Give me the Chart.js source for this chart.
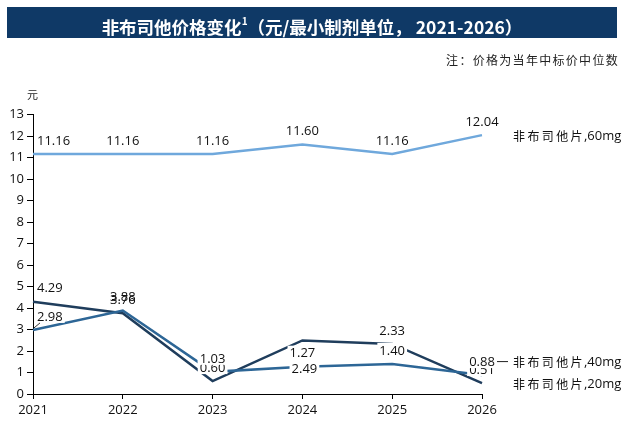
<!DOCTYPE html>
<html>
<head>
<meta charset="utf-8">
<script src="https://cdn.jsdelivr.net/npm/chart.js@4.4.1/dist/chart.umd.min.js"></script>
<style>
  html, body { margin: 0; padding: 0; background: #fff; }
  #wrap { position: relative; width: 625px; height: 422px; overflow: hidden; }
  #c { position: absolute; left: 0; top: 0; }
  #title { position: absolute; left: 7px; top: 7px; width: 610px; height: 31px; background: #0f3966;
    color: #fff; font: bold 17.5px 'Noto Sans CJK SC', sans-serif; text-align: center; line-height: 31px; }
  #title sup { font-size: 10px; position: relative; top: -2px; }
  #note { position: absolute; right: 6px; top: 51px; font: 12px 'Noto Sans CJK SC', sans-serif; color: #222; letter-spacing: 1.3px; }
  #unit { position: absolute; left: 27px; top: 86px; font: 11px 'Noto Sans CJK SC', sans-serif; color: #222; }
</style>
</head>
<body>
<div id="wrap">
  <canvas id="c" width="625" height="422"></canvas>
  <div id="title">非布司他价格变化<sup>1</sup>（元/最小制剂单位， 2021-2026）</div>
  <div id="note">注：价格为当年中标价中位数</div>
  <div id="unit">元</div>
</div>
<script>
const years = ['2021', '2022', '2023', '2024', '2025', '2026'];
const seriesNames = ['非布司他片,60mg', '非布司他片,40mg', '非布司他片,20mg'];
const price60 = [11.16, 11.16, 11.16, 11.60, 11.16, 12.04];
const price40 = [2.98, 3.88, 1.03, 1.27, 1.40, 0.88];
const price20 = [4.29, 3.76, 0.60, 2.49, 2.33, 0.51];
const yTicks = [0,1,2,3,4,5,6,7,8,9,10,11,12,13];

const colors = ['#6fa8dc', '#2d6696', '#1f3d5c'];
const numFont = "13px 'Open Sans', sans-serif";

const labelPlugin = {
  id: 'labels',
  afterDatasetsDraw(chart) {
    const ctx = chart.ctx;
    ctx.save();
    ctx.font = numFont;
    ctx.textBaseline = 'middle';
    const drawOrder = [0, 2, 1];
    drawOrder.forEach(di => {
      const meta = chart.getDatasetMeta(di);
      const data = chart.data.datasets[di].data;
      meta.data.forEach((pt, i) => {
        const txt = data[i].toFixed(2);
        const w = ctx.measureText(txt).width;
        let x = pt.x, y = pt.y - 14;
        let left;
        if (i === 0) { left = x + 4; } else { left = x - w / 2; }
        if (di === 2 && i === 3) { y = pt.y + 28; left = x - w / 2 + 2; }
        if (!(i === 1 && di !== 0)) {
          ctx.fillStyle = '#fff';
          ctx.fillRect(left - 2, y - 7, w + 4, 14);
        }
        ctx.fillStyle = '#111';
        ctx.textAlign = 'left';
        ctx.fillText(txt, left, y + 1);
        if (di === 1 && i === 0) {
          ctx.strokeStyle = '#333'; ctx.lineWidth = 1;
          ctx.beginPath(); ctx.moveTo(pt.x + 1, pt.y - 2); ctx.lineTo(pt.x + 7, pt.y - 7); ctx.stroke();
        }
      });
    });
    // series names at line ends
    chart.data.datasets.forEach((ds, di) => {
      const meta = chart.getDatasetMeta(di);
      const pt = meta.data[meta.data.length - 1];
      let y = pt.y;
      if (di === 1) y = pt.y - 14;
      const x0 = pt.x + 31;
      if (di === 1) {
        ctx.strokeStyle = '#222'; ctx.lineWidth = 1;
        ctx.beginPath(); ctx.moveTo(pt.x + 15, y + 0.5); ctx.lineTo(pt.x + 26, y + 0.5); ctx.stroke();
      }
      const name = ds.label;
      const idx = name.indexOf(',');
      const cjk = name.slice(0, idx), rest = name.slice(idx);
      ctx.fillStyle = '#111';
      ctx.textAlign = 'left';
      ctx.font = "12px 'Noto Sans CJK SC', sans-serif";
      let cx = x0;
      for (const ch of cjk) { ctx.fillText(ch, cx, y + 1); cx += 14.4; }
      ctx.font = numFont;
      ctx.fillText(rest, cx - 1, y + 1);
    });
    ctx.restore();
  }
};

new Chart(document.getElementById('c'), {
  type: 'line',
  data: {
    labels: years,
    datasets: [
      { label: seriesNames[0], data: price60, borderColor: colors[0], borderWidth: 2.5 },
      { label: seriesNames[1], data: price40, borderColor: colors[1], borderWidth: 2.5 },
      { label: seriesNames[2], data: price20, borderColor: colors[2], borderWidth: 2.5 }
    ]
  },
  options: {
    responsive: false,
    animation: false,
    events: [],
    elements: { point: { radius: 0 }, line: { tension: 0 } },
    layout: { padding: { top: 114.5, right: 143, left: 0, bottom: 0 } },
    plugins: { legend: { display: false }, tooltip: { enabled: false }, title: { display: false } },
    scales: {
      x: {
        offset: false,
        grid: { drawOnChartArea: false, drawTicks: true, tickLength: 5, color: '#000' },
        border: { color: '#000', width: 1 },
        ticks: { color: '#111', font: { family: 'Open Sans', size: 13 }, padding: 3, maxRotation: 0 },
        afterFit(s) { s.height = 28; }
      },
      y: {
        min: 0, max: 13,
        afterBuildTicks(s) { s.ticks = yTicks.map(v => ({ value: v })); },
        grid: { drawOnChartArea: false, drawTicks: true, tickLength: 6, color: '#000' },
        border: { color: '#000', width: 1 },
        ticks: { color: '#111', font: { family: 'Open Sans', size: 13 }, padding: 3 },
        afterFit(s) { s.width = 33; }
      }
    }
  },
  plugins: [labelPlugin]
});
</script>
</body>
</html>
